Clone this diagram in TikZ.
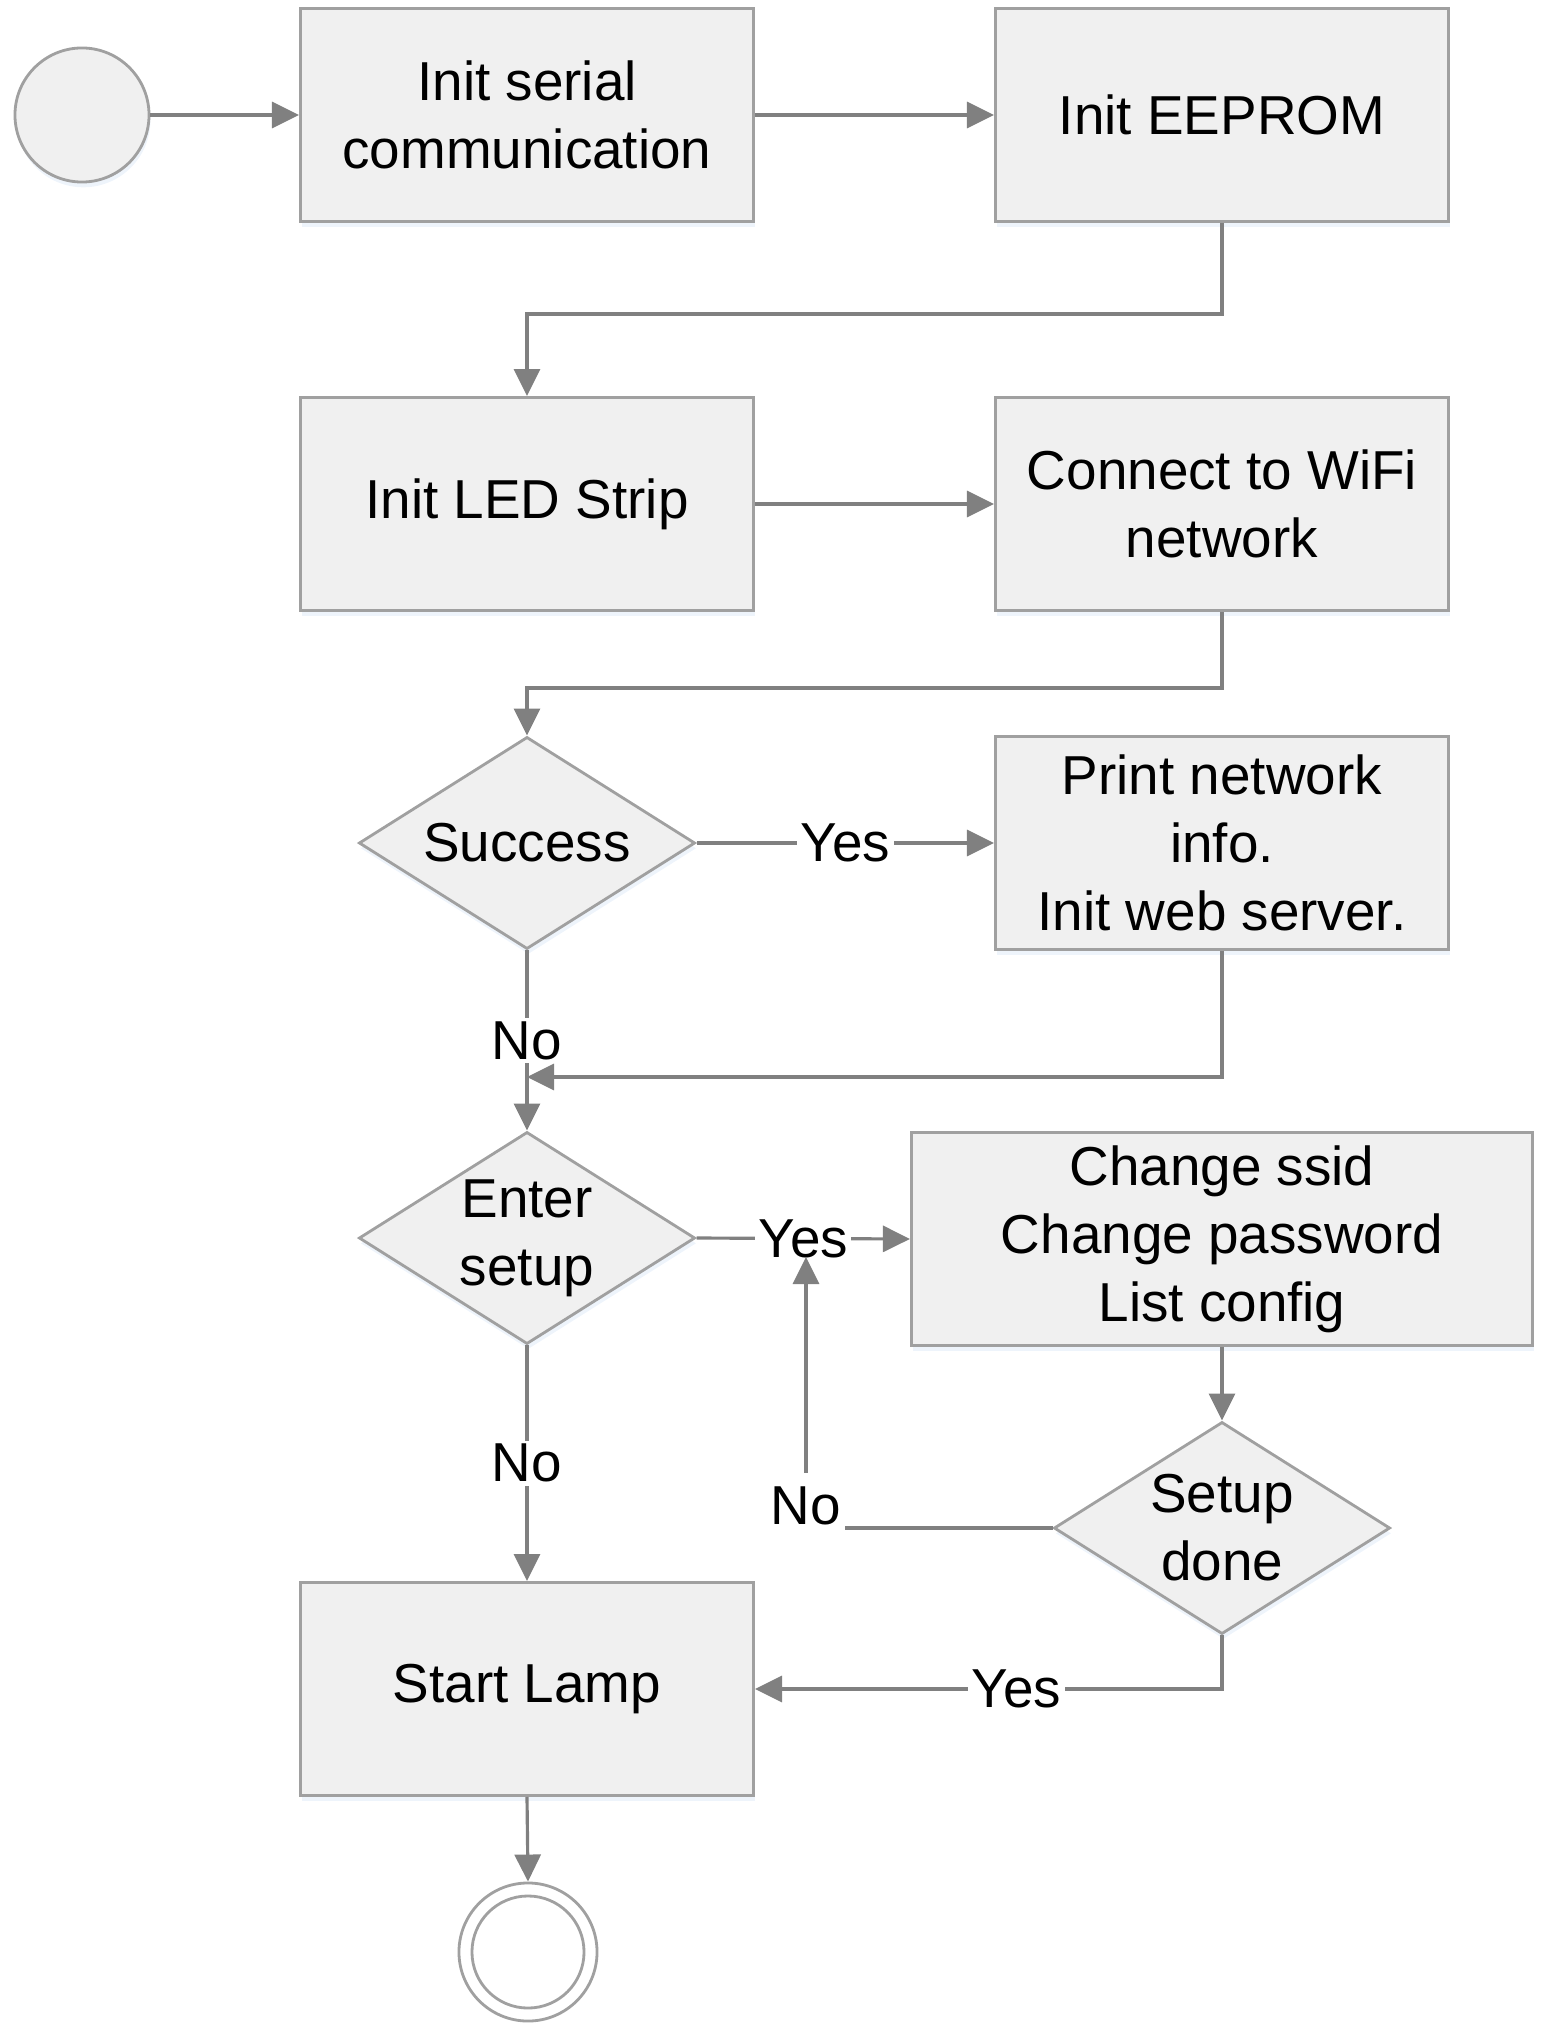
\documentclass[tikz,border=0pt]{standalone}
\usepackage{fontspec}
\setmainfont{Liberation Sans}
\usetikzlibrary{positioning, shapes.geometric, arrows.meta, shadows}

\definecolor{boxfill}{RGB}{240,240,240}
\definecolor{boxline}{RGB}{160,160,160}
\definecolor{flowline}{RGB}{128,128,128}
\definecolor{glow}{RGB}{222,234,248}

\begin{document}
\begin{tikzpicture}[
        x                       = 0.01cm,
        y                       = -0.01cm,
        every node/.style       = {font=\fontsize{15.6}{19.3}\selectfont, align=center},
        glowing/.style          = {drop shadow={fill=glow, shadow xshift=0.4pt, shadow yshift=-1.5pt}},
        process/.style          = {draw=boxline, line width=0.8pt, fill=boxfill, glowing,
                                   minimum width=4.53cm, minimum height=2.13cm, inner sep=2pt},
        decision/.style         = {diamond, draw=boxline, line width=0.8pt, fill=boxfill, glowing,
                                   aspect=1.585, minimum width=3.36cm, minimum height=2.12cm, inner sep=0pt},
        flow/.style             = {draw=flowline, line width=0.9pt, -{Triangle[length=0.27cm, width=0.26cm]}},
        answer/.style           = {fill=white, inner sep=1pt},
    ]
    \useasboundingbox (0,0) rectangle (1551,2025);

    % start and first row
    \node [circle, draw=boxline, line width=0.8pt, fill=boxfill, glowing,
           minimum size=1.34cm, inner sep=0pt] (start) at (82,115) {};
    \node [process] (serial) at (527,115) {Init serial\\communication};
    \node [process] (eeprom) at (1222,115) {Init EEPROM};

    % second row
    \node [process] (led) at (527,504) {Init LED Strip};
    \node [process] (wifi) at (1222,504) {Connect to WiFi\\network};

    % wifi check
    \node [decision] (success) at (527,843) {Success};
    \node [process] (netinfo) at (1222,843) {Print network\\info.\\Init web server.};
    \coordinate (merge) at (527,1077);

    % setup mode
    \node [decision] (setup) at (527,1238) {Enter\\setup};
    \node [process, minimum width=6.21cm] (config) at (1222,1239) {Change ssid\\Change password\\List config};
    \node [decision] (done) at (1222,1528) {Setup\\done};
    \coordinate (retry) at (806,1257);

    % lamp and end
    \node [process] (lamp) at (527,1689) {Start Lamp};
    \node [circle, draw=boxline, line width=0.8pt, minimum size=1.38cm, inner sep=0pt] (stop) at (528,1952) {};
    \node [circle, draw=boxline, line width=0.8pt, minimum size=1.12cm, inner sep=0pt] (stopin) at (stop) {};

    \draw [flow] (start) -- (serial);
    \draw [flow] (serial) -- (eeprom);
    \draw [flow] (eeprom.south) -- ++(0,91) -| (led.north);
    \draw [flow] (led) -- (wifi);
    \draw [flow] (wifi.south) -- ++(0,76) -| (success.north);
    \draw [flow] (success.east) -- node [answer] {Yes} (netinfo.west);
    \draw [flow] (netinfo.south) |- (merge);
    \draw [flow] (success.south) -- node [answer] {No} (setup.north);
    \draw [flow] (setup.east) -- node [answer] {Yes} (config.west);
    \draw [flow] (config.south) -- (done.north);
    \draw [flow] (done.west) -| node [answer, pos=0.5, yshift=0.22cm, inner ysep=4pt] {No} (retry);
    \draw [flow] (done.south) |- node [answer, pos=0.72] {Yes} (lamp.east);
    \draw [flow] (setup.south) -- node [answer] {No} (lamp.north);
    \draw [flow] (lamp.south) -- (stop.north);
\end{tikzpicture}
\end{document}
